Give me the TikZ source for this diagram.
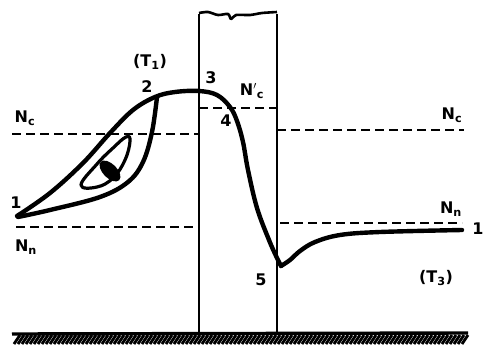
\documentclass[tikz,border=0pt]{standalone}
\usepackage{fontspec}
\setmainfont{DejaVu Sans}
\begin{document}
\begin{tikzpicture}[x=1pt,y=-1pt,
  lbl/.style={font=\bfseries\fontsize{16}{16}\selectfont, inner sep=0pt},
  curve/.style={line width=4.4pt, line cap=round, line join=round},
  wall/.style={line width=2.6pt},
  level/.style={line width=2.8pt, dash pattern=on 9pt off 5pt}]
\useasboundingbox (0,0) rectangle (485,349);
% pillar
\coordinate (pTL) at (199,14);
\coordinate (pTR) at (277,14);
\coordinate (pBL) at (199,333);
\coordinate (pBR) at (277,333);
\draw[wall] (pBL) -- (pTL);
\draw[wall] (pBR) -- (pTR);
\draw[wall, line join=round] plot[smooth] coordinates {(199,13) (208,12) (218,15) (228,14) (231,19) (236,15) (250,15) (262,13) (277,12)};
% ground
\coordinate (g1) at (12,334);
\coordinate (g2) at (468,333);
\draw[line width=3.4pt] (g1) -- (g2);
\foreach \gx in {14,18,...,462}{\draw[line width=2.8pt] (\gx,344) -- (\gx+6,335);}
% levels
\coordinate (ncL) at (12,134);
\coordinate (ncLe) at (199,134);
\coordinate (ncM) at (199,108);
\coordinate (ncMe) at (277,108);
\coordinate (ncR) at (277,130);
\coordinate (ncRe) at (464,130);
\coordinate (nnL) at (16,227);
\coordinate (nnLe) at (199,227);
\coordinate (nnR) at (280,223);
\coordinate (nnRe) at (462,223);
\draw[level] (ncL) -- (ncLe);
\draw[level] (ncM) -- (ncMe);
\draw[level] (ncR) -- (ncRe);
\draw[level] (nnL) -- (nnLe);
\draw[level] (nnR) -- (nnRe);
% points
\coordinate (p1) at (17,216);
\coordinate (p2) at (155,97);
\coordinate (p5) at (281,266);
% main curve
\draw[curve] plot[smooth, tension=0.6] coordinates {(17,216) (50,193) (83,163) (110,133) (133,110) (155,97) (175,92) (199,91) (217,95) (230,107) (237,121) (243,142) (248,170) (257,208) (269,240) (277,258) (281,266)};
\draw[curve] plot[smooth, tension=0.6] coordinates {(281,266) (290,260) (300,251) (315,242) (340,235) (380,232) (462,230)};
% lower branch of loop
\draw[curve] plot[smooth, tension=0.6] coordinates {(18,217) (50,210) (100,197) (128,182) (143,162) (152,132) (157,97)};
% inner loop
\draw[line width=3.2pt, line join=round] plot[smooth cycle, tension=0.7] coordinates {(81,185) (97,164) (113,148) (126,137) (130,141) (125,160) (113,178) (97,187)};
\fill[rotate around={-45:(110,171)}] (110,171) ellipse[x radius=13pt, y radius=7pt];
% labels
\node[lbl] (l1) at (16,203) {1};
\node[lbl] (l1r) at (478,229) {1};
\node[lbl] (l2) at (147,87) {2};
\node[lbl] (l3) at (211,78) {3};
\node[lbl] (l4) at (226,121) {4};
\node[lbl] (l5) at (261,280) {5};
\node[lbl] (t1) at (150,62) {(T\textsubscript{1})};
\node[lbl] (t3) at (436,278) {(T\textsubscript{3})};
\node[lbl] (ncl) at (25,118) {N\textsubscript{c}};
\node[lbl] (ncr) at (452,115) {N\textsubscript{c}};
\node[lbl] (ncm) at (252,91) {N$'$\textsubscript{c}};
\node[lbl] (nnl) at (26,247) {N\textsubscript{n}};
\node[lbl] (nnr) at (451,209) {N\textsubscript{n}};
\end{tikzpicture}
\end{document}
